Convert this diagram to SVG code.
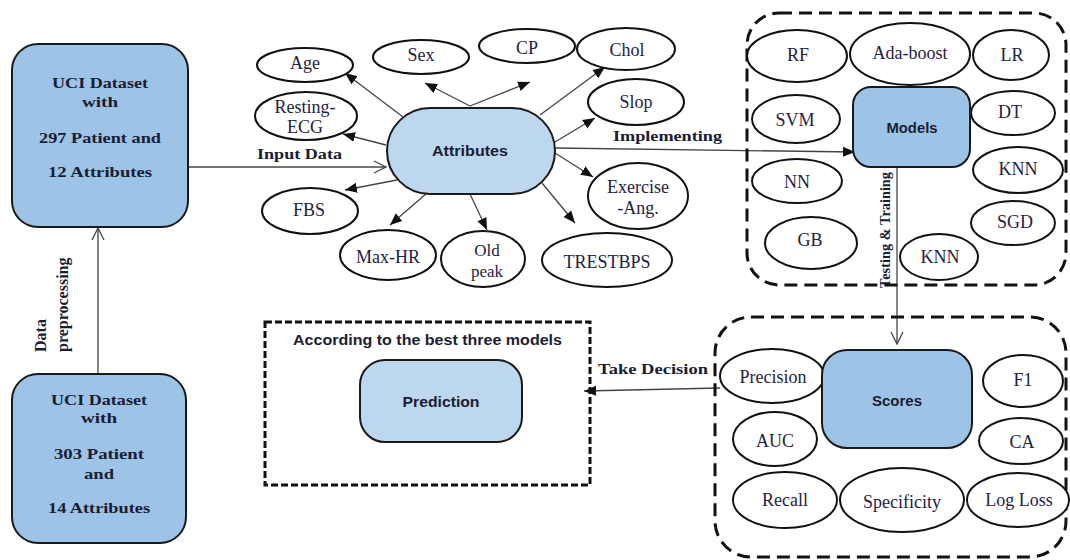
<svg xmlns="http://www.w3.org/2000/svg" width="1070" height="560" viewBox="0 0 1070 560">
<style>
.bg{fill:#ffffff}
.dark{fill:#9dc3e6;stroke:#1a1a1a;stroke-width:2}
.light{fill:#bdd7ee;stroke:#1a1a1a;stroke-width:2}
.el{fill:#ffffff;stroke:#111111;stroke-width:2}
.cont{fill:none;stroke:#111111;stroke-width:3;stroke-dasharray:13 7}
.cont2{fill:none;stroke:#111111;stroke-width:3;stroke-dasharray:7 3}
.t{font-family:"Liberation Serif","Times New Roman",serif;font-size:18px;fill:#1f2244;text-anchor:middle}
.b{font-family:"Liberation Serif","Times New Roman",serif;font-weight:bold;font-size:14px;fill:#1a1d33;text-anchor:middle}
.s{font-family:"Liberation Sans",Arial,sans-serif;font-weight:bold;font-size:15px;fill:#1a1d33;text-anchor:middle}
.ln{fill:none;stroke:#444444;stroke-width:1.3}
</style>
<defs>
<marker id="fa" viewBox="0 0 12 12" refX="12" refY="6" markerWidth="12" markerHeight="12" markerUnits="userSpaceOnUse" orient="auto">
<path d="M0,1 L12,6 L0,11 z" fill="#111111"/>
</marker>
<marker id="oa" viewBox="0 0 14 14" refX="13" refY="7" markerWidth="14" markerHeight="14" markerUnits="userSpaceOnUse" orient="auto">
<path d="M1,1 L13,7 L1,13" fill="none" stroke="#444444" stroke-width="1.3"/>
</marker>
</defs>
<rect class="bg" x="0" y="0" width="1070" height="560"/>

<g id="connectors">
<line class="ln" x1="188" y1="167" x2="386" y2="167" marker-end="url(#oa)"/>
<line class="ln" x1="98" y1="374" x2="98" y2="228" marker-end="url(#oa)"/>
<line class="ln" x1="403" y1="117" x2="345" y2="73" marker-end="url(#fa)"/>
<line class="ln" x1="470" y1="106" x2="425" y2="83" marker-end="url(#fa)"/>
<line class="ln" x1="470" y1="106" x2="530" y2="82" marker-end="url(#fa)"/>
<line class="ln" x1="540" y1="115" x2="605" y2="67" marker-end="url(#fa)"/>
<line class="ln" x1="555" y1="142" x2="595" y2="118" marker-end="url(#fa)"/>
<line class="ln" x1="386" y1="145" x2="343" y2="134" marker-end="url(#fa)"/>
<line class="ln" x1="397" y1="180" x2="345" y2="190" marker-end="url(#fa)"/>
<line class="ln" x1="427" y1="193" x2="390" y2="225" marker-end="url(#fa)"/>
<line class="ln" x1="470" y1="194" x2="487" y2="230" marker-end="url(#fa)"/>
<line class="ln" x1="542" y1="183" x2="575" y2="223" marker-end="url(#fa)"/>
<line class="ln" x1="555" y1="153" x2="593" y2="177" marker-end="url(#fa)"/>
<line class="ln" x1="555" y1="148" x2="855" y2="152" marker-end="url(#fa)"/>
<line class="ln" x1="897" y1="167" x2="897" y2="344" marker-end="url(#oa)"/>
<line class="ln" x1="720" y1="388" x2="584" y2="391" marker-end="url(#fa)"/>
<text class="b" x="299.5" y="159" textLength="85" lengthAdjust="spacingAndGlyphs">Input Data</text>
<text class="b" x="667.5" y="141" textLength="109" lengthAdjust="spacingAndGlyphs">Implementing</text>
<text class="b" x="653" y="374" textLength="110" lengthAdjust="spacingAndGlyphs">Take Decision</text>
<text class="b" style="font-size:16px;text-anchor:start" transform="translate(46,352) rotate(-90)">Data</text>
<text class="b" style="font-size:16px;text-anchor:start" transform="translate(68,352) rotate(-90)">preprocessing</text>
<text class="b" style="text-anchor:start" transform="translate(890,288) rotate(-90)" textLength="116" lengthAdjust="spacingAndGlyphs">Testing &amp; Training</text>
</g>

<g id="uci-297">
<rect class="dark" x="12" y="44" width="176" height="183" rx="26"/>
<text class="b" x="100" y="88" textLength="96" lengthAdjust="spacingAndGlyphs">UCI Dataset</text>
<text class="b" x="100" y="107" textLength="36" lengthAdjust="spacingAndGlyphs">with</text>
<text class="b" x="100" y="143" textLength="122" lengthAdjust="spacingAndGlyphs">297 Patient and</text>
<text class="b" x="100" y="177" textLength="104" lengthAdjust="spacingAndGlyphs">12 Attributes</text>
</g>

<g id="uci-303">
<rect class="dark" x="12" y="374" width="174" height="169" rx="26"/>
<text class="b" x="99" y="405" textLength="96" lengthAdjust="spacingAndGlyphs">UCI Dataset</text>
<text class="b" x="99" y="423" textLength="36" lengthAdjust="spacingAndGlyphs">with</text>
<text class="b" x="99" y="459" textLength="90" lengthAdjust="spacingAndGlyphs">303 Patient</text>
<text class="b" x="99" y="479" textLength="30" lengthAdjust="spacingAndGlyphs">and</text>
<text class="b" x="99" y="513" textLength="102" lengthAdjust="spacingAndGlyphs">14 Attributes</text>
</g>

<g id="attributes">
<rect class="light" x="387" y="108" width="168" height="86" rx="43"/>
<text class="s" x="470" y="156" textLength="76" lengthAdjust="spacingAndGlyphs">Attributes</text>
</g>
<g id="age"><ellipse class="el" cx="305" cy="65" rx="48" ry="17"/><text class="t" x="305" y="69">Age</text></g>
<g id="sex"><ellipse class="el" cx="421" cy="57" rx="48" ry="17"/><text class="t" x="421" y="61">Sex</text></g>
<g id="cp"><ellipse class="el" cx="527" cy="46" rx="48" ry="17"/><text class="t" x="527" y="54">CP</text></g>
<g id="chol"><ellipse class="el" cx="626" cy="49" rx="49" ry="21"/><text class="t" x="627" y="56">Chol</text></g>
<g id="slop"><ellipse class="el" cx="636" cy="102" rx="48" ry="23"/><text class="t" x="636" y="108">Slop</text></g>
<g id="resting-ecg"><ellipse class="el" cx="306" cy="116" rx="51" ry="24"/><text class="t" x="305" y="113">Resting-</text><text class="t" x="305" y="133">ECG</text></g>
<g id="fbs"><ellipse class="el" cx="310" cy="211" rx="48" ry="23"/><text class="t" x="309" y="216">FBS</text></g>
<g id="max-hr"><ellipse class="el" cx="388" cy="255" rx="48" ry="25"/><text class="t" x="388" y="263">Max-HR</text></g>
<g id="old-peak"><ellipse class="el" cx="483" cy="259" rx="42" ry="28"/><text class="t" style="font-size:17px" x="487" y="256">Old</text><text class="t" style="font-size:17px" x="487" y="277">peak</text></g>
<g id="trestbps"><ellipse class="el" cx="607" cy="260" rx="65" ry="27"/><text class="t" x="607" y="268">TRESTBPS</text></g>
<g id="exercise-ang"><ellipse class="el" cx="638" cy="196" rx="50" ry="33"/><text class="t" x="638" y="193">Exercise</text><text class="t" x="638" y="214">-Ang.</text></g>

<g id="models-group">
<rect class="cont" x="747" y="13" width="319" height="272" rx="32"/>
</g>
<g id="rf"><ellipse class="el" cx="797" cy="56" rx="50" ry="26"/><text class="t" x="798" y="61">RF</text></g>
<g id="ada-boost"><ellipse class="el" cx="910" cy="54" rx="60" ry="31"/><text class="t" x="910" y="59">Ada-boost</text></g>
<g id="lr"><ellipse class="el" cx="1011" cy="55" rx="38" ry="25"/><text class="t" x="1012" y="61">LR</text></g>
<g id="svm"><ellipse class="el" cx="796" cy="119" rx="44" ry="24"/><text class="t" x="795" y="126">SVM</text></g>
<g id="dt"><ellipse class="el" cx="1013" cy="113" rx="42" ry="22"/><text class="t" x="1010" y="118">DT</text></g>
<g id="nn"><ellipse class="el" cx="797" cy="181" rx="45" ry="22"/><text class="t" x="797" y="188">NN</text></g>
<g id="knn-1"><ellipse class="el" cx="1018" cy="170" rx="45" ry="23"/><text class="t" x="1018" y="175">KNN</text></g>
<g id="gb"><ellipse class="el" cx="811" cy="243" rx="46" ry="26"/><text class="t" x="810" y="246">GB</text></g>
<g id="sgd"><ellipse class="el" cx="1013" cy="223" rx="42" ry="22"/><text class="t" x="1015" y="228">SGD</text></g>
<g id="knn-2"><ellipse class="el" cx="939" cy="257" rx="39" ry="23"/><text class="t" x="940" y="263">KNN</text></g>
<g id="models">
<rect class="dark" x="853" y="87" width="117" height="80" rx="18"/>
<text class="s" x="912" y="133" textLength="51" lengthAdjust="spacingAndGlyphs">Models</text>
</g>

<g id="scores-group">
<rect class="cont" x="715" y="317" width="351" height="240" rx="36"/>
</g>
<g id="precision"><ellipse class="el" cx="772" cy="376" rx="52" ry="27"/><text class="t" x="773" y="383">Precision</text></g>
<g id="scores">
<rect class="dark" x="822" y="350" width="150" height="98" rx="25"/>
<text class="s" x="897" y="406" textLength="50" lengthAdjust="spacingAndGlyphs">Scores</text>
</g>
<g id="f1"><ellipse class="el" cx="1023" cy="381" rx="40" ry="26"/><text class="t" x="1023" y="386">F1</text></g>
<g id="auc"><ellipse class="el" cx="775" cy="439" rx="42" ry="27"/><text class="t" x="775" y="447">AUC</text></g>
<g id="ca"><ellipse class="el" cx="1021" cy="441" rx="42" ry="23"/><text class="t" x="1022" y="448">CA</text></g>
<g id="recall"><ellipse class="el" cx="785" cy="500" rx="52" ry="28"/><text class="t" x="785" y="506">Recall</text></g>
<g id="specificity"><ellipse class="el" cx="902" cy="500" rx="62" ry="32"/><text class="t" x="902" y="508">Specificity</text></g>
<g id="log-loss"><ellipse class="el" cx="1018" cy="500" rx="51" ry="27"/><text class="t" x="1019" y="506">Log Loss</text></g>

<g id="prediction-group">
<rect class="cont2" x="265" y="322" width="325" height="163"/>
<text class="s" style="font-size:14px" x="427.5" y="345" textLength="269" lengthAdjust="spacingAndGlyphs">According to the best three models</text>
</g>
<g id="prediction">
<rect class="light" x="360" y="360" width="162" height="82" rx="25"/>
<text class="s" x="441" y="407" textLength="77" lengthAdjust="spacingAndGlyphs">Prediction</text>
</g>
</svg>
